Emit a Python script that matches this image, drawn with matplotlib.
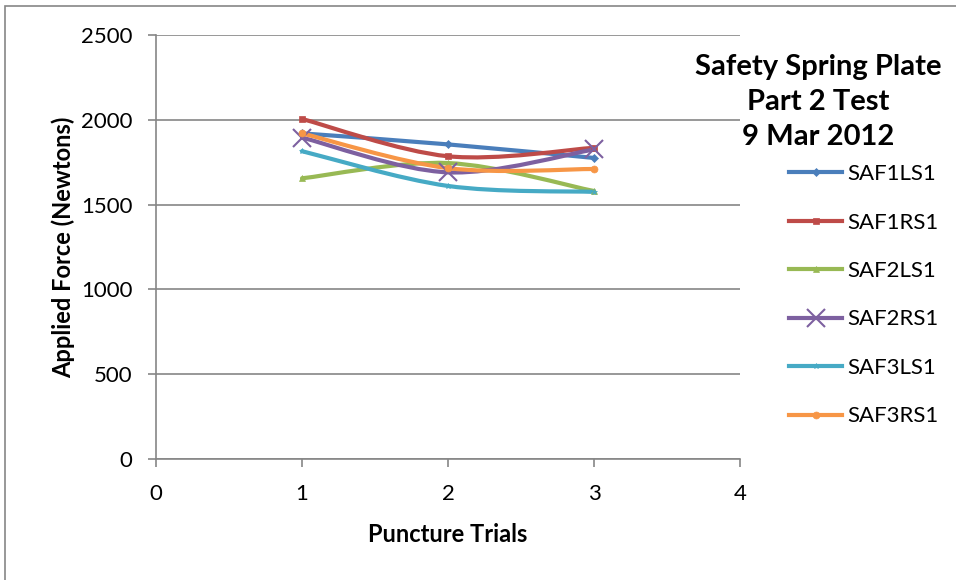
import numpy as np
import matplotlib.pyplot as plt
from matplotlib.path import Path
from matplotlib.patches import PathPatch, Rectangle
from matplotlib.lines import Line2D

plt.rcParams['font.family'] = ['Lato', 'DejaVu Sans']

# Puncture trial results
trials = [1, 2, 3]
saf1ls1 = [1920, 1855, 1775]
saf1rs1 = [2005, 1785, 1835]
saf2ls1 = [1655, 1745, 1580]
saf2rs1 = [1895, 1690, 1825]
saf3ls1 = [1815, 1610, 1575]
saf3rs1 = [1920, 1715, 1710]

series_names = ['SAF1LS1', 'SAF1RS1', 'SAF2LS1', 'SAF2RS1', 'SAF3LS1', 'SAF3RS1']
series_values = [saf1ls1, saf1rs1, saf2ls1, saf2rs1, saf3ls1, saf3rs1]
colors = ['#4A7EBB', '#BE4B48', '#98B954', '#7D60A0', '#46AAC5', '#F79646']
markers = ['D', 's', '^', 'x', '*', 'o']
msizes = [4, 5, 5, 13, 4, 5]

y_ticks = [0, 500, 1000, 1500, 2000, 2500]
x_ticks = [0, 1, 2, 3, 4]


def smooth_path(x, y, k=1/6):
    # cubic bezier through the points, tangents taken from neighbours
    pts = np.column_stack([x, y]).astype(float)
    n = len(pts)
    verts = [pts[0]]
    codes = [Path.MOVETO]
    for i in range(n - 1):
        p_prev = pts[max(i - 1, 0)]
        p0 = pts[i]
        p1 = pts[i + 1]
        p_next = pts[min(i + 2, n - 1)]
        c1 = p0 + (p1 - p_prev) * k
        c2 = p1 - (p_next - p0) * k
        verts += [c1, c2, p1]
        codes += [Path.CURVE4] * 3
    return Path(verts, codes)


fig = plt.figure(figsize=(9.56, 5.8), dpi=100)
ax = fig.add_axes([156/956, 121/580, 584/956, 424/580])

# chart border
fig.patches.append(Rectangle((5/956, -0.05), 1.05, 1 - 6/580 + 0.05,
                             transform=fig.transFigure, fill=False,
                             edgecolor='#868686', linewidth=1.2))

for vals, name, c, m, ms in zip(series_values, series_names, colors, markers, msizes):
    ax.add_patch(PathPatch(smooth_path(trials, vals), fill=False,
                           edgecolor=c, linewidth=3, capstyle='round', zorder=3))
    ax.plot(trials, vals, linestyle='none', marker=m, markersize=ms,
            color=c, markeredgewidth=1.5 if m == 'x' else 0.5, zorder=4)

ax.set_xlim(0, 4)
ax.set_ylim(0, 2500)
ax.set_xticks(x_ticks)
ax.set_yticks(y_ticks)
ax.grid(axis='y', color='#868686', linewidth=1.2)
ax.set_axisbelow(True)
for s in ['top', 'right']:
    ax.spines[s].set_visible(False)
for s in ['left', 'bottom']:
    ax.spines[s].set_color('#868686')
    ax.spines[s].set_linewidth(1.2)
ax.tick_params(axis='both', direction='out', length=6, width=1.2,
               color='#868686', labelsize=16)
ax.tick_params(axis='y', pad=11)
ax.tick_params(axis='x', pad=12)

ax.set_ylabel('Applied Force (Newtons)', fontsize=17, fontweight='bold', labelpad=4)
ax.set_xlabel('Puncture Trials', fontsize=17, fontweight='bold', labelpad=14)

fig.text(818/956, 1 - 102/580, 'Safety Spring Plate\nPart 2 Test\n9 Mar 2012',
         ha='center', va='center', fontsize=21, fontweight='bold', linespacing=1.42)

handles = [Line2D([], [], color=c, linewidth=3, marker=m,
                  markersize=ms, markeredgewidth=1.5 if m == 'x' else 0.5)
           for c, m, ms in zip(colors, markers, msizes)]
fig.legend(handles, series_names, loc='upper left',
           bbox_to_anchor=(778/956, 1 - 153/580), frameon=False,
           fontsize=16, handlelength=2.4, labelspacing=1.28,
           handletextpad=0.2, borderpad=0)

fig.savefig('out.png', dpi=100)
